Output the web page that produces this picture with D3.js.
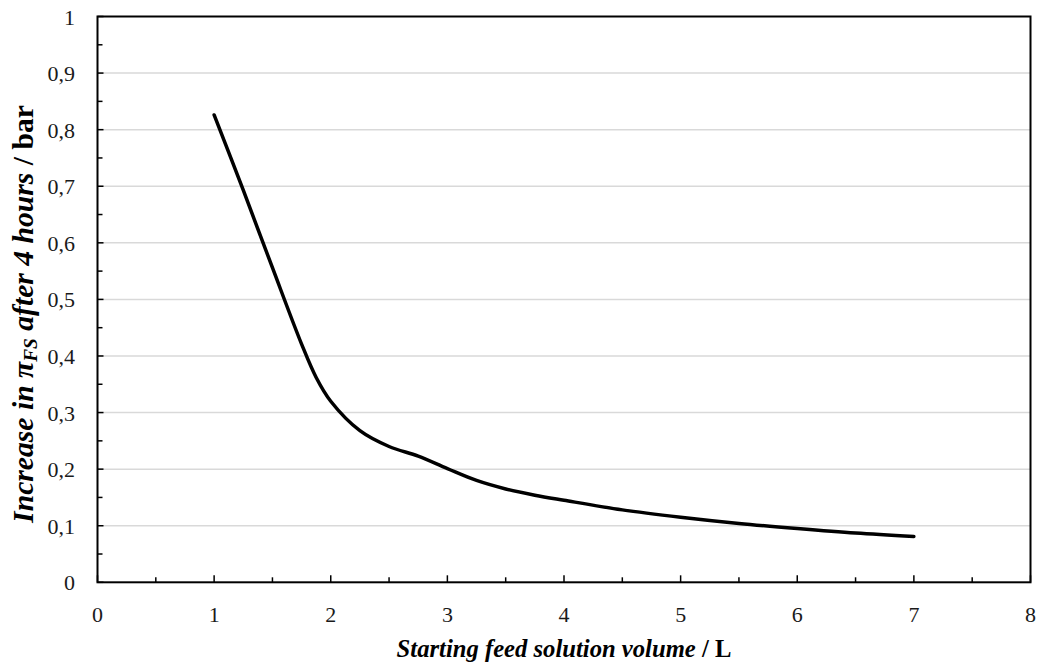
<!DOCTYPE html>
<html><head><meta charset="utf-8">
<script src="https://cdn.jsdelivr.net/npm/d3@7"></script>
<style>
body{margin:0;background:#fff;}
text{font-family:"Liberation Serif","DejaVu Serif",serif;}
</style></head>
<body><svg id="c" width="1039" height="668"></svg>
<script>
const volumes = [1, 1.25, 1.5, 1.75, 1.875, 2, 2.25, 2.5, 2.75, 3, 3.25, 3.5, 3.75, 4, 4.5, 5, 5.5, 6, 6.5, 7];
const increase = [0.826, 0.693, 0.556, 0.421, 0.362, 0.320, 0.268, 0.240, 0.223, 0.201, 0.180, 0.165, 0.154, 0.145, 0.128, 0.115, 0.104, 0.095, 0.087, 0.081];
const xTicks = [0, 1, 2, 3, 4, 5, 6, 7, 8];
const yTicks = [0, 0.1, 0.2, 0.3, 0.4, 0.5, 0.6, 0.7, 0.8, 0.9, 1];
const yTickLabels = ["0", "0,1", "0,2", "0,3", "0,4", "0,5", "0,6", "0,7", "0,8", "0,9", "1"];

const svg = d3.select("#c");
const L = 97.5, R = 1030.5, T = 16.5, B = 582.3;
const x = d3.scaleLinear().domain([0, 8]).range([L, R]);
const y = d3.scaleLinear().domain([0, 1]).range([B, T]);

svg.append("g").selectAll("line").data(yTicks.slice(1, -1)).join("line")
  .attr("x1", L).attr("x2", R).attr("y1", d => y(d)).attr("y2", d => y(d))
  .attr("stroke", "#d9d9d9").attr("stroke-width", 1.5);

const yMinor = d3.range(0.05, 1, 0.1);
svg.append("g").selectAll("line").data(yMinor).join("line")
  .attr("x1", L).attr("x2", L + 5).attr("y1", d => y(d)).attr("y2", d => y(d))
  .attr("stroke", "#000").attr("stroke-width", 1.5);
svg.append("g").selectAll("line").data(yTicks).join("line")
  .attr("x1", L).attr("x2", L + 6).attr("y1", d => y(d)).attr("y2", d => y(d))
  .attr("stroke", "#000").attr("stroke-width", 1.5);
const xMinor = d3.range(0.5, 8, 1);
svg.append("g").selectAll("line").data(xMinor).join("line")
  .attr("x1", d => x(d)).attr("x2", d => x(d)).attr("y1", B).attr("y2", B - 5)
  .attr("stroke", "#000").attr("stroke-width", 1.5);
svg.append("g").selectAll("line").data(xTicks).join("line")
  .attr("x1", d => x(d)).attr("x2", d => x(d)).attr("y1", B).attr("y2", B - 7)
  .attr("stroke", "#000").attr("stroke-width", 1.5);

svg.append("rect").attr("x", L).attr("y", T).attr("width", R - L).attr("height", B - T)
  .attr("fill", "none").attr("stroke", "#000").attr("stroke-width", 2);

svg.append("g").selectAll("text").data(yTicks).join("text")
  .attr("x", 75).attr("y", d => y(d) + 8).attr("text-anchor", "end")
  .attr("font-size", 22).attr("fill", "#1a1a1a").text((d, i) => yTickLabels[i]);
svg.append("g").selectAll("text").data(xTicks).join("text")
  .attr("x", d => x(d)).attr("y", 622).attr("text-anchor", "middle")
  .attr("font-size", 22).attr("fill", "#1a1a1a").text(d => d);

const line = d3.line().x((d, i) => x(volumes[i])).y(d => y(d)).curve(d3.curveCatmullRom.alpha(0.5));
svg.append("path").datum(increase).attr("d", line)
  .attr("fill", "none").attr("stroke", "#000").attr("stroke-width", 3.5).attr("stroke-linecap", "round");

function fit(t, target) {
  const w = t.node().getComputedTextLength();
  const fs = +t.attr("font-size");
  t.attr("font-size", fs * target / w);
}

const xt = svg.append("text").attr("x", 564).attr("y", 657).attr("text-anchor", "middle")
  .attr("font-size", 22).attr("font-weight", "bold");
xt.append("tspan").attr("font-style", "italic").text("Starting feed solution volume");
xt.append("tspan").text(" / L");
fit(xt, 335);

const yt = svg.append("text").attr("transform", "translate(33,314) rotate(-90)").attr("text-anchor", "middle")
  .attr("font-size", 22).attr("font-weight", "bold");
yt.append("tspan").attr("font-style", "italic").text("Increase in π");
yt.append("tspan").attr("font-style", "italic").attr("font-size", "0.65em").attr("dy", 4).text("FS");
yt.append("tspan").attr("font-style", "italic").attr("dy", -4).text(" after 4 hours");
yt.append("tspan").text(" / bar");
fit(yt, 418);
</script></body></html>
